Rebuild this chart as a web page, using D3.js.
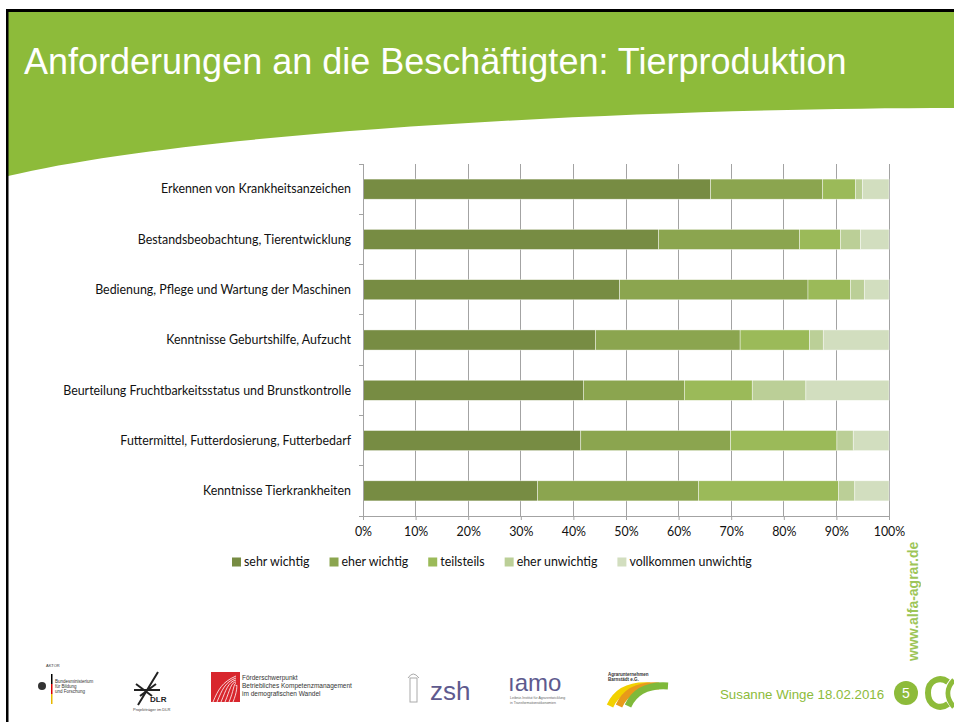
<!DOCTYPE html>
<html>
<head>
<meta charset="utf-8">
<script src="https://cdn.jsdelivr.net/npm/d3@7"></script>
<style>
  html, body { margin: 0; padding: 0; background: #fff; }
  svg { display: block; }
</style>
</head>
<body>
<script>
// ---------------- DATA ----------------
const categories = [
  "Erkennen von Krankheitsanzeichen",
  "Bestandsbeobachtung, Tierentwicklung",
  "Bedienung, Pflege und Wartung der Maschinen",
  "Kenntnisse Geburtshilfe, Aufzucht",
  "Beurteilung Fruchtbarkeitsstatus und Brunstkontrolle",
  "Futtermittel, Futterdosierung, Futterbedarf",
  "Kenntnisse Tierkrankheiten"
];
const seriesNames = ["sehr wichtig", "eher wichtig", "teilsteils", "eher unwichtig", "vollkommen unwichtig"];
const sehrWichtig       = [66.1, 56.2, 48.8, 44.2, 41.9, 41.4, 33.2];
const eherWichtig       = [21.3, 26.8, 35.8, 27.5, 19.2, 28.5, 30.6];
const teilsteils        = [6.2, 7.8, 8.1, 13.2, 12.9, 20.2, 26.6];
const eherUnwichtig     = [1.4, 3.8, 2.6, 2.6, 10.2, 3.1, 3.1];
const vollkommenUnwichtig = [5.0, 5.4, 4.7, 12.5, 15.8, 6.8, 6.5];
const xTicks = [0, 10, 20, 30, 40, 50, 60, 70, 80, 90, 100];
const seriesColors = ["#778C43", "#8BA54F", "#9BBA59", "#BBCF97", "#D2DEBF"];

const title = "Anforderungen an die Beschäftigten: Tierproduktion";
const footerText = "Susanne Winge 18.02.2016";
const pageNumber = "5";
const sideUrl = "www.alfa-agrar.de";

// ---------------- SETUP ----------------
const W = 954, H = 722;
const green = "#8DBB3A";
const svg = d3.select("body").append("svg").attr("width", W).attr("height", H);

svg.append("rect").attr("width", W).attr("height", H).attr("fill", "#fff");

// Header green swoosh
svg.append("path")
  .attr("d", "M8,11 H954 V108 C650,108 200,130 8,176 Z")
  .attr("fill", green);
// borders
svg.append("rect").attr("x", 6).attr("y", 9).attr("width", W - 6).attr("height", 3).attr("fill", "#000");
svg.append("rect").attr("x", 6).attr("y", 9).attr("width", 2.5).attr("height", H - 9).attr("fill", "#000");

svg.append("text")
  .attr("x", 24).attr("y", 74)
  .attr("font-family", "'Liberation Sans', Arial, sans-serif")
  .attr("font-size", 36)
  .attr("fill", "#fff")
  .text(title);

// ---------------- CHART ----------------
const x = d3.scaleLinear().domain([0, 100]).range([363, 889]);
const y = d3.scaleBand().domain(categories).range([164, 516]).paddingInner(0.6).paddingOuter(0.3);
const labelFont = "Lato, 'Open Sans', sans-serif";
const labelSize = 12.4;
const gridColor = "#a3a3a3";

// gridlines
svg.append("g").selectAll("line").data(xTicks.filter(d => d > 0)).join("line")
  .attr("x1", d => x(d)).attr("x2", d => x(d))
  .attr("y1", 164).attr("y2", 516)
  .attr("stroke", gridColor).attr("stroke-width", 1).attr("shape-rendering", "crispEdges");

// stacked data
const seriesValues = [sehrWichtig, eherWichtig, teilsteils, eherUnwichtig, vollkommenUnwichtig];
const table = categories.map((c, i) => {
  const o = { cat: c };
  seriesNames.forEach((s, k) => o[s] = seriesValues[k][i]);
  return o;
});
const stacked = d3.stack().keys(seriesNames)(table);

svg.append("g").selectAll("g").data(stacked).join("g")
  .attr("fill", (d, i) => seriesColors[i])
  .selectAll("rect").data(d => d).join("rect")
  .attr("x", d => x(d[0]))
  .attr("width", d => x(d[1]) - x(d[0]))
  .attr("y", d => y(d.data.cat))
  .attr("height", y.bandwidth())
  .attr("stroke", "#ffffff").attr("stroke-width", 0.6).attr("stroke-opacity", 0.7);

// y axis line and category ticks
svg.append("line").attr("x1", 363).attr("x2", 363).attr("y1", 164).attr("y2", 516)
  .attr("stroke", gridColor).attr("stroke-width", 1).attr("shape-rendering", "crispEdges");
const bounds = categories.map(c => y(c) - y.step() * y.paddingInner() / 2).concat([516]);
svg.append("g").selectAll("line").data(bounds).join("line")
  .attr("x1", 359).attr("x2", 363).attr("y1", d => d).attr("y2", d => d)
  .attr("stroke", gridColor).attr("shape-rendering", "crispEdges");

// category labels
svg.append("g").selectAll("text").data(categories).join("text")
  .attr("x", 351).attr("y", d => y(d) + y.bandwidth() / 2)
  .attr("dy", "0.35em").attr("text-anchor", "end")
  .attr("font-family", labelFont).attr("font-size", labelSize).attr("fill", "#111")
  .text(d => d);

// x axis
const xAxis = svg.append("g").attr("transform", "translate(0,516)")
  .call(d3.axisBottom(x).tickValues(xTicks).tickSize(4).tickSizeOuter(0).tickFormat(d => d + "%"));
xAxis.select(".domain").attr("stroke", gridColor);
xAxis.selectAll(".tick line").attr("stroke", gridColor);
xAxis.selectAll("text").attr("font-family", labelFont).attr("font-size", labelSize).attr("fill", "#111").attr("dy", "1.05em");

// legend
const legend = svg.append("g").attr("transform", "translate(232,562)");
let lx = 0;
seriesNames.forEach((s, i) => {
  const g = legend.append("g").attr("transform", `translate(${lx},0)`);
  g.append("rect").attr("x", 0).attr("y", -4.5).attr("width", 9).attr("height", 9).attr("fill", seriesColors[i]);
  const t = g.append("text").attr("x", 12).attr("dy", "0.35em")
    .attr("font-family", labelFont).attr("font-size", labelSize).attr("fill", "#111").text(s);
  lx += 12 + t.node().getComputedTextLength() + 20;
});

// ---------------- FOOTER ----------------
const foot = svg.append("g");
// vertical url
foot.append("text")
  .attr("transform", "translate(918,661) rotate(-90)")
  .attr("font-family", "'Liberation Sans', Arial, sans-serif").attr("font-weight", "bold")
  .attr("font-size", 14).attr("fill", green).attr("opacity", 0.85)
  .text(sideUrl);

foot.append("text").attr("x", 720).attr("y", 699)
  .attr("font-family", "'Liberation Sans', Arial, sans-serif").attr("font-size", 13.3)
  .attr("fill", green).text(footerText);
foot.append("circle").attr("cx", 906).attr("cy", 693).attr("r", 12).attr("fill", green);
foot.append("text").attr("x", 906).attr("y", 698).attr("text-anchor", "middle")
  .attr("font-family", "'Liberation Sans', Arial, sans-serif").attr("font-size", 14).attr("fill", "#fff").text(pageNumber);
// alpha logo
foot.append("path").attr("d", "M948,682 C940,676 928,680 928,693 C928,706 940,710 948,704")
  .attr("fill", "none").attr("stroke", green).attr("stroke-width", 6);
foot.append("path").attr("d", "M954,680 C946,688 946,698 954,707")
  .attr("fill", "none").attr("stroke", green).attr("stroke-width", 5);

// logo 1: federal ministry
const tiny = "'Liberation Sans', Arial, sans-serif";
foot.append("circle").attr("cx", 42).attr("cy", 686).attr("r", 4).attr("fill", "#333");
foot.append("rect").attr("x", 51).attr("y", 674).attr("width", 1.5).attr("height", 10).attr("fill", "#000");
foot.append("rect").attr("x", 51).attr("y", 684).attr("width", 1.5).attr("height", 10).attr("fill", "#d00");
foot.append("rect").attr("x", 51).attr("y", 694).attr("width", 1.5).attr("height", 10).attr("fill", "#e8b800");
foot.append("text").attr("x", 46).attr("y", 667).attr("font-family", tiny).attr("font-size", 4).attr("fill", "#333").text("AKTOR");
["Bundesministerium", "für Bildung", "und Forschung"].forEach((t, i) =>
  foot.append("text").attr("x", 55).attr("y", 683 + i * 5).attr("font-family", tiny).attr("font-size", 4.5).attr("fill", "#333").text(t));

// logo 2: DLR
foot.append("path").attr("d", "M138,705 L158,672 M134,690 L160,690 M140,696 L156,684 M136,684 L152,696")
  .attr("stroke", "#222").attr("stroke-width", 2).attr("fill", "none");
foot.append("text").attr("x", 150).attr("y", 702).attr("font-family", tiny).attr("font-weight", "bold").attr("font-size", 8).attr("fill", "#222").text("DLR");
foot.append("text").attr("x", 133).attr("y", 711).attr("font-family", tiny).attr("font-size", 4).attr("fill", "#444").text("Projektträger im DLR");

// logo 3: red block
foot.append("rect").attr("x", 211).attr("y", 672).attr("width", 29).attr("height", 30).attr("fill", "#d8262d");
for (let i = 0; i < 6; i++) {
  foot.append("path").attr("d", `M${213 + i * 4},702 C${218 + i * 4},690 ${222 + i * 3},682 ${236},${676 + i * 2}`)
    .attr("stroke", "#fff").attr("stroke-width", 0.8).attr("fill", "none");
}
["Förderschwerpunkt", "Betriebliches Kompetenzmanagement", "im demografischen Wandel"].forEach((t, i) =>
  foot.append("text").attr("x", 242).attr("y", 680 + i * 8).attr("font-family", tiny).attr("font-size", 6.5).attr("fill", "#333").text(t));

// logo 4: zsh
foot.append("rect").attr("x", 410).attr("y", 678).attr("width", 7).attr("height", 24).attr("fill", "none").attr("stroke", "#aaa").attr("stroke-width", 1);
foot.append("path").attr("d", "M408,678 Q413,670 419,678").attr("fill", "none").attr("stroke", "#aaa");
foot.append("text").attr("x", 430).attr("y", 700).attr("font-family", tiny).attr("font-size", 26).attr("fill", "#5e5a8e").text("zsh");

// logo 5: iamo
foot.append("text").attr("x", 508).attr("y", 691).attr("font-family", tiny).attr("font-size", 24).attr("fill", "#5e5a8e").attr("font-weight", "normal").text("ıamo");
foot.append("text").attr("x", 510).attr("y", 699).attr("font-family", tiny).attr("font-size", 3.5).attr("fill", "#666").text("Leibniz-Institut für Agrarentwicklung");
foot.append("text").attr("x", 510).attr("y", 704).attr("font-family", tiny).attr("font-size", 3.5).attr("fill", "#666").text("in Transformationsökonomien");

// logo 6: Agrar arcs
foot.append("text").attr("x", 608).attr("y", 676).attr("font-family", tiny).attr("font-size", 4.5).attr("font-weight", "bold").attr("fill", "#333").text("Agrarunternehmen");
foot.append("text").attr("x", 608).attr("y", 681).attr("font-family", tiny).attr("font-size", 4.5).attr("font-weight", "bold").attr("fill", "#333").text("Barnstädt e.G.");
[["#f2d100", 0], ["#e89a1a", 9], ["#7fb93a", 18]].forEach(([c, o]) =>
  foot.append("path").attr("d", `M${610 + o},706 Q${620 + o},684 ${650 + o},686`)
    .attr("fill", "none").attr("stroke", c).attr("stroke-width", 7));
</script>
</body>
</html>
